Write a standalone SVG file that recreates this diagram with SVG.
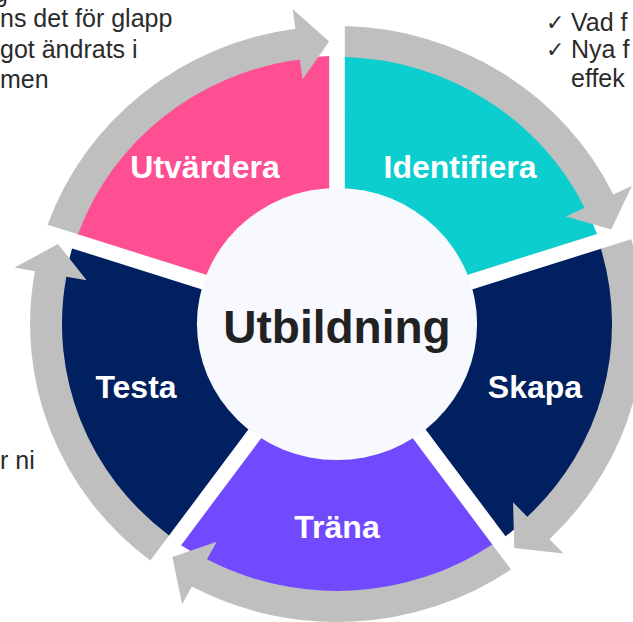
<svg xmlns="http://www.w3.org/2000/svg" xmlns:xlink="http://www.w3.org/1999/xlink" width="633" height="622" viewBox="0 0 633 622">
  <style>
    .lbl { font-family: "Liberation Sans", Arial, sans-serif; font-weight: bold; font-size: 32px; fill: #FFFFFF; text-anchor: middle; }
    .center { font-family: "Liberation Sans", Arial, sans-serif; font-weight: bold; font-size: 46px; fill: #222222; text-anchor: middle; }
    .side { font-family: "Liberation Sans", Arial, sans-serif; font-size: 25px; fill: #2B2B2B; }
    .chk { font-family: "DejaVu Sans", "Liberation Sans", sans-serif; font-size: 22px; fill: #2B2B2B; }
    .arrow { fill: #BFBFBF; }
  </style>
  <defs>
    <path id="sector" d="M7.6,-10.46 L7.6,-267.89 A268,268 0 0 1 252.43,-90.01 Z"/>
    <path id="arc-arrow" d="M7.6,-266.89 L7.6,-297.9 A298,298 0 0 1 268.33,-129.62 L286.34,-138.32 L266.23,-94.5 L222.41,-107.44 L240.42,-116.14 A267,267 0 0 0 7.6,-266.89 Z"/>
  </defs>

  <g transform="translate(337 324) scale(1.03 1)">
    <g id="node-identifiera"><use xlink:href="#sector" href="#sector" fill="#0DCECE"/></g>
    <g id="node-skapa"><use xlink:href="#sector" href="#sector" fill="#002060" transform="rotate(72)"/></g>
    <g id="node-trana"><use xlink:href="#sector" href="#sector" fill="#714AFF" transform="rotate(144)"/></g>
    <g id="node-testa"><use xlink:href="#sector" href="#sector" fill="#002060" transform="rotate(216)"/></g>
    <g id="node-utvardera"><use xlink:href="#sector" href="#sector" fill="#FF4F93" transform="rotate(288)"/></g>

    <g id="connectors">
      <use class="arrow" xlink:href="#arc-arrow" href="#arc-arrow"/>
      <use class="arrow" xlink:href="#arc-arrow" href="#arc-arrow" transform="rotate(72)"/>
      <use class="arrow" xlink:href="#arc-arrow" href="#arc-arrow" transform="rotate(144)"/>
      <use class="arrow" xlink:href="#arc-arrow" href="#arc-arrow" transform="rotate(216)"/>
      <use class="arrow" xlink:href="#arc-arrow" href="#arc-arrow" transform="rotate(288)"/>
    </g>

    <g id="node-utbildning-circle"><circle cx="0" cy="0" r="136" fill="#F7F9FF"/></g>
  </g>

  <g id="node-utbildning"><text class="center" x="337" y="343">Utbildning</text></g>
  <g id="label-identifiera"><text class="lbl" x="460" y="178">Identifiera</text></g>
  <g id="label-skapa"><text class="lbl" x="535" y="398">Skapa</text></g>
  <g id="label-trana"><text class="lbl" x="337" y="538">Träna</text></g>
  <g id="label-testa"><text class="lbl" x="136" y="398">Testa</text></g>
  <g id="label-utvardera"><text class="lbl" x="205" y="178">Utvärdera</text></g>

  <g id="note-top-left">
    <text class="side" x="-6" y="2">g</text>
    <text class="side" x="0" y="27">ns det för glapp</text>
    <text class="side" x="0" y="57.5">got ändrats i</text>
    <text class="side" x="0" y="88">men</text>
  </g>
  <g id="note-top-right">
    <text class="chk" x="546" y="30">✓</text>
    <text class="side" x="571" y="31">Vad f</text>
    <text class="chk" x="546" y="57">✓</text>
    <text class="side" x="571" y="58">Nya f</text>
    <text class="side" x="571" y="87">effek</text>
  </g>
  <g id="note-left">
    <text class="side" x="0" y="469">r ni</text>
  </g>
</svg>
